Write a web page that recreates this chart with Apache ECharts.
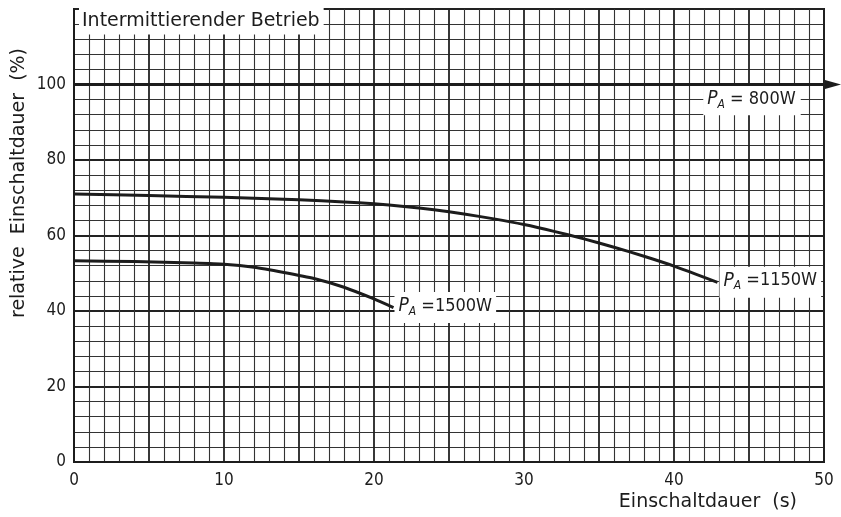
<!DOCTYPE html>
<html>
<head>
<meta charset="utf-8">
<script src="https://cdn.jsdelivr.net/npm/echarts@6/dist/echarts.min.js"></script>
<style>
  html, body { margin: 0; padding: 0; background: #fff; }
  #chart { width: 841px; height: 517px; }
</style>
</head>
<body>
<div id="chart"></div>
<script>
// Einschaltdauer (s) vs. relative Einschaltdauer (%) for three power levels
const xTicks = [0, 10, 20, 30, 40, 50];
const yTicks = [0, 20, 40, 60, 80, 100];

const p800X = [0, 50];
const p800Y = [100, 100];

const p1150X = [0, 5, 10, 15, 18, 20, 22, 24, 26, 28, 30, 32, 34, 36, 38, 40, 42.9];
const p1150Y = [71.0, 70.6, 70.1, 69.5, 68.9, 68.4, 67.7, 66.8, 65.7, 64.4, 62.9, 61.1, 59.1, 56.9, 54.5, 51.9, 47.6];

const p1500X = [0, 4, 8, 10, 12, 14, 16, 18, 20, 21.3];
const p1500Y = [53.3, 53.1, 52.7, 52.4, 51.6, 50.2, 48.6, 46.3, 43.2, 40.9];

const FONT_N = "'DejaVu Sans Condensed', 'Liberation Sans Narrow', 'DejaVu Sans', sans-serif";
const FONT_W = "'DejaVu Sans', 'Liberation Sans', sans-serif";
const INK = '#1c1c1c';

const pairs = (xs, ys) => xs.map((x, i) => [x, ys[i]]);

const labelRich = {
  p: { fontFamily: FONT_N, fontStyle: 'italic', fontSize: 19, color: INK, lineHeight: 22 },
  s: { fontFamily: FONT_N, fontStyle: 'italic', fontSize: 12, color: INK, padding: [11, 0, 0, 0], lineHeight: 12 },
  n: { fontFamily: FONT_N, fontSize: 18, color: INK, lineHeight: 22 }
};

const chart = echarts.init(document.getElementById('chart'), null, { renderer: 'canvas' });

chart.setOption({
  backgroundColor: '#ffffff',
  animation: false,
  grid: {
    left: 74, right: 17, top: 9, bottom: 55,
    show: true, borderColor: INK, borderWidth: 2, backgroundColor: 'transparent'
  },
  xAxis: {
    type: 'value', min: xTicks[0], max: xTicks[xTicks.length - 1], interval: 5,
    axisLine: { show: true, lineStyle: { color: INK, width: 2 } },
    axisTick: { show: false },
    axisLabel: {
      margin: 10, color: INK, fontFamily: FONT_N, fontSize: 17,
      formatter: v => (xTicks.indexOf(v) >= 0 ? String(v) : '')
    },
    splitLine: { show: true, lineStyle: { color: '#222', width: 1.8 } },
    minorTick: { show: false, splitNumber: 5 },
    minorSplitLine: { show: true, lineStyle: { color: '#333', width: 1.1 } }
  },
  yAxis: {
    type: 'value', min: 0, max: 120, interval: 20,
    axisLine: { show: true, lineStyle: { color: INK, width: 2 } },
    axisTick: { show: false },
    axisLabel: {
      margin: 8, color: INK, fontFamily: FONT_N, fontSize: 17,
      formatter: v => (yTicks.indexOf(v) >= 0 ? String(v) : '')
    },
    splitLine: { show: true, lineStyle: { color: '#222', width: 1.8 } },
    minorTick: { show: false, splitNumber: 5 },
    minorSplitLine: { show: true, lineStyle: { color: '#333', width: 1.1 } }
  },
  graphic: [
    {
      type: 'text', x: 19, y: 183, rotation: Math.PI / 2,
      style: {
        text: 'relative  Einschaltdauer  (%)', fill: INK, font: '19px ' + FONT_W,
        textAlign: 'center', textVerticalAlign: 'middle'
      }
    },
    {
      type: 'text', x: 797, y: 502,
      style: {
        text: 'Einschaltdauer  (s)', fill: INK, font: '19px ' + FONT_W,
        textAlign: 'right', textVerticalAlign: 'middle'
      }
    },
    {
      type: 'text', x: 79, y: 21, z: 10,
      style: {
        text: 'Intermittierender Betrieb', fill: INK, font: '19px ' + FONT_W,
        textAlign: 'left', textVerticalAlign: 'middle',
        backgroundColor: '#fff', padding: [4, 4, 4, 3]
      }
    }
  ],
  series: [
    {
      name: 'P_A = 800W', type: 'line', data: pairs(p800X, p800Y),
      symbol: 'none', lineStyle: { color: INK, width: 3 }, z: 5,
      markPoint: {
        silent: true, symbol: 'rect', symbolSize: 0,
        data: [{ coord: [45.2, 95.8] }],
        label: {
          show: true, position: 'inside',
          formatter: '{p|P}{s|A}{n| = 800W}', rich: labelRich,
          backgroundColor: '#fff', padding: [3, 5, 5, 4]
        }
      }
    },
    {
      // arrowhead on the open end of the 800 W line, sitting just outside the frame
      name: 'arrow', type: 'scatter', clip: false, silent: true, z: 6,
      data: [pairs(p800X, p800Y)[p800X.length - 1]],
      symbol: 'path://M0,0 L16,4.5 L0,9 Z', symbolSize: [16, 9], symbolKeepAspect: false,
      symbolOffset: [9, 0],
      itemStyle: { color: INK, opacity: 1 }
    },
    {
      name: 'P_A = 1150W', type: 'line', data: pairs(p1150X, p1150Y),
      smooth: 0.2, symbol: 'none', lineStyle: { color: INK, width: 3 }, z: 5,
      endLabel: {
        show: true, distance: 2, formatter: '{p|P}{s|A}{n| =1150W}', rich: labelRich,
        backgroundColor: '#fff', padding: [3, 4, 6, 4]
      }
    },
    {
      name: 'P_A = 1500W', type: 'line', data: pairs(p1500X, p1500Y),
      smooth: 0.2, symbol: 'none', lineStyle: { color: INK, width: 3 }, z: 5,
      endLabel: {
        show: true, distance: 1, formatter: '{p|P}{s|A}{n| =1500W}', rich: labelRich,
        backgroundColor: '#fff', padding: [3, 4, 6, 4]
      }
    }
  ]
});
</script>
</body>
</html>
